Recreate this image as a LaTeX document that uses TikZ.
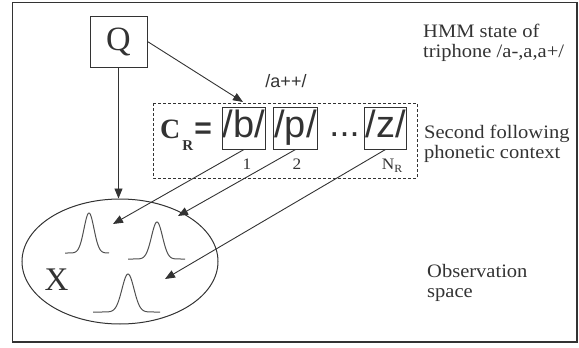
\documentclass[tikz,border=0pt]{standalone}
\usepackage{fontspec}
\setmainfont{Liberation Serif}
\setsansfont{Liberation Sans}
\newfontfamily\widefont[FakeStretch=1.08]{Liberation Serif}
\usetikzlibrary{shapes.geometric,arrows.meta}
\definecolor{ink}{HTML}{333333}
\definecolor{gau}{HTML}{505050}
\begin{document}
\begin{tikzpicture}[x=1pt,y=-1pt,
  line/.style={draw=ink, line width=0.9pt},
  arr/.style={line, -{Triangle[length=10pt,width=8pt]}},
  pbox/.style={draw=ink, line width=1pt, text=ink, font=\fontsize{38}{38}\selectfont\sffamily,
     text height=30pt, text depth=12pt, inner ysep=0pt, inner xsep=0.5pt, anchor=base},
  lbl/.style={font=\fontsize{19}{20}\selectfont\widefont, text=ink, align=left, inner sep=0pt, anchor=base west},
  num/.style={font=\fontsize{16}{16}\selectfont\widefont, text=ink, inner sep=0pt, anchor=base},
  gauss/.style={draw=gau, line width=1pt}
]
\useasboundingbox (0,0) rectangle (579,348);
\draw[draw=ink, line width=1.4pt] (12.5,2.5) rectangle (577,342);

% Q node
\node[draw=ink, line width=1pt, minimum width=57pt, minimum height=51pt, inner sep=0pt,
      text=ink, font=\fontsize{34}{34}\selectfont] (Q) at (118.5,41.5) {Q};

% dashed context box
\draw[draw=ink, line width=0.8pt, dash pattern=on 3pt off 2pt] (153,103) rectangle (417,178);

% C_R =
\node[inner sep=0pt, anchor=base west, text=ink] (CR) at (160,138)
  {\fontsize{28}{28}\selectfont\bfseries C\hspace{2pt}\raisebox{-12pt}{\fontsize{15}{15}\selectfont\bfseries R}\hspace{1pt}{\fontsize{30}{30}\selectfont\sffamily\bfseries =}};

% phone boxes
\node[pbox] (b) at (244,137) {/b/};
\node[pbox] (p) at (295.5,137) {/p/};
\node[pbox] (z) at (385.5,137) {/z/};
\node[inner sep=0pt, anchor=base, text=ink, font=\fontsize{36}{36}\selectfont\sffamily] (dots) at (344.5,136) {...};

\node[num] (n1) at (247,169) {1};
\node[num] (n2) at (297,169) {2};
\node[num] (nR) at (392,169) {N\raisebox{-3pt}{\fontsize{11}{11}\selectfont R}};

% /a++/
\node[inner sep=0pt, anchor=base, text=ink, font=\fontsize{18}{18}\selectfont\sffamily] (app) at (286,87) {/a++/};

% right labels (anchor = baseline of last line)
\node[lbl] (hmm) at (423,57) {HMM state of\\triphone /a-,a,a+/};
\node[lbl] (sec) at (424,158) {Second following\\phonetic context};
\node[lbl] (obs) at (427,297) {Observation\\space};

% observation space
\node[draw=ink, line width=1pt, ellipse, minimum width=196pt, minimum height=125pt, inner sep=0pt] (ell) at (120,261.5) {};
\node[inner sep=0pt, text=ink, font=\fontsize{33}{33}\selectfont] (X) at (56.5,280) {X};

% gaussians
\draw[gauss] plot[domain=65:109, samples=70, smooth] ({\x},{253-40*exp(-((\x-89)^2)/(2*5^2))});
\draw[gauss] plot[domain=128:185, samples=70, smooth] ({\x},{259-37*exp(-((\x-157)^2)/(2*5.5^2))});
\draw[gauss] plot[domain=93:160, samples=70, smooth] ({\x},{312-38*exp(-((\x-128)^2)/(2*6^2))});

% arrow targets
\coordinate (tb) at (243,102);
\coordinate (t1) at (113,224);
\coordinate (t2) at (178,216);
\coordinate (t3) at (165,279);

% connectors
\draw[arr] (Q.east) -- (tb);
\draw[arr] (Q.south) -- (Q.south |- ell.north);
\draw[arr] (b.south) -- (t1);
\draw[arr] (p.south) -- (t2);
\draw[arr] (z.south) -- (t3);
\end{tikzpicture}
\end{document}
